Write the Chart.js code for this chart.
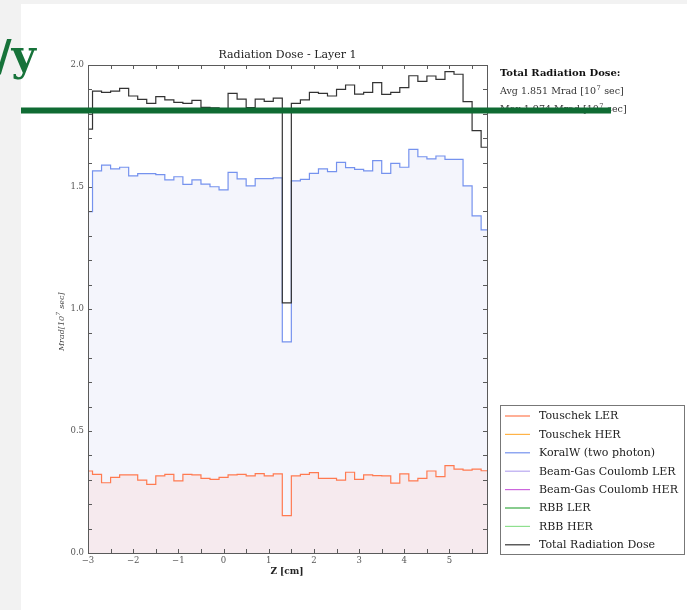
<!DOCTYPE html>
<html>
<head>
<meta charset="utf-8">
<script src="https://cdn.jsdelivr.net/npm/chart.js@4.4.0/dist/chart.umd.min.js"></script>
<style>
  html, body { margin: 0; padding: 0; background: #f2f2f2; }
  canvas { display: block; }
</style>
</head>
<body>
<canvas id="dose-chart" width="687" height="610"></canvas>
<script>
// bin edges in Z [cm]; first and last bins are cut by the axis range
var zEdges = [-3, -2.9, -2.7, -2.5, -2.3, -2.1, -1.9, -1.7, -1.5, -1.3, -1.1, -0.9, -0.7, -0.5, -0.3, -0.1,
  0.1, 0.3, 0.5, 0.7, 0.9, 1.1, 1.3, 1.5, 1.7, 1.9, 2.1, 2.3, 2.5, 2.7, 2.9, 3.1, 3.3, 3.5, 3.7, 3.9,
  4.1, 4.3, 4.5, 4.7, 4.9, 5.1, 5.3, 5.5, 5.7, 5.83];

var totalDose = [1.737, 1.893, 1.888, 1.893, 1.904, 1.873, 1.859, 1.843, 1.870, 1.857, 1.847, 1.843, 1.855,
  1.826, 1.824, 1.807, 1.884, 1.860, 1.825, 1.860, 1.851, 1.864, 1.025, 1.843, 1.857, 1.888, 1.884, 1.873,
  1.900, 1.918, 1.881, 1.888, 1.928, 1.880, 1.888, 1.907, 1.956, 1.933, 1.955, 1.941, 1.973, 1.962, 1.850,
  1.731, 1.663];

var koralW = [1.399, 1.566, 1.590, 1.574, 1.581, 1.546, 1.555, 1.555, 1.551, 1.529, 1.542, 1.511, 1.529,
  1.512, 1.501, 1.488, 1.560, 1.533, 1.505, 1.534, 1.534, 1.537, 0.865, 1.525, 1.531, 1.556, 1.574, 1.563,
  1.601, 1.579, 1.572, 1.566, 1.608, 1.556, 1.597, 1.581, 1.654, 1.624, 1.615, 1.627, 1.613, 1.613, 1.505,
  1.382, 1.324];

var touschekLER = [0.336, 0.322, 0.288, 0.310, 0.320, 0.320, 0.299, 0.281, 0.316, 0.322, 0.296, 0.322, 0.320,
  0.306, 0.302, 0.310, 0.320, 0.322, 0.316, 0.325, 0.316, 0.324, 0.153, 0.316, 0.322, 0.329, 0.306, 0.306,
  0.299, 0.331, 0.302, 0.320, 0.317, 0.316, 0.286, 0.324, 0.296, 0.306, 0.336, 0.313, 0.358, 0.344, 0.340,
  0.344, 0.337];

// the other sources sit on the axis
var nearZero = [0, 0, 0, 0, 0, 0, 0, 0, 0, 0, 0, 0, 0, 0, 0, 0, 0, 0, 0, 0, 0, 0, 0, 0, 0, 0, 0, 0, 0, 0,
  0, 0, 0, 0, 0, 0, 0, 0, 0, 0, 0, 0, 0, 0, 0];

var xTicks = [-3, -2, -1, 0, 1, 2, 3, 4, 5];
var yTicks = [0, 0.5, 1.0, 1.5, 2.0];
var xMinor = [-3, -2.5, -2, -1.5, -1, -0.5, 0, 0.5, 1, 1.5, 2, 2.5, 3, 3.5, 4, 4.5, 5, 5.5];
var yMinor = [0, 0.1, 0.2, 0.3, 0.4, 0.5, 0.6, 0.7, 0.8, 0.9, 1.0, 1.1, 1.2, 1.3, 1.4, 1.5, 1.6, 1.7, 1.8, 1.9, 2.0];

var legendNames = ["Touschek LER", "Touschek HER", "KoralW (two photon)", "Beam-Gas Coulomb LER",
  "Beam-Gas Coulomb HER", "RBB LER", "RBB HER", "Total Radiation Dose"];
var legendColors = ["#ff7a50", "#ffb347", "#7592ee", "#b8a8f0", "#cc66dd", "#3aaa44", "#8fe08f", "#333333"];

var avgDose = "1.851";
var maxDose = "1.974";

var SERIF = '"DejaVu Serif", "Liberation Serif", serif';

function stepData(vals) {
  return zEdges.map(function (z, i) {
    return { x: z, y: vals[Math.min(i, vals.length - 1)] };
  });
}

function line(label, vals, color, extra) {
  var ds = { label: label, data: stepData(vals), borderColor: color, borderWidth: 1.2,
    stepped: "before", pointRadius: 0, fill: false };
  for (var k in extra) ds[k] = extra[k];
  return ds;
}

// text with a "10^7" superscript
function drawUnits(c, prefix, x, y, size, style) {
  c.font = style + size + "px " + SERIF;
  c.fillText(prefix + "[10", x, y);
  var w = c.measureText(prefix + "[10").width;
  c.font = style + (size * 0.7) + "px " + SERIF;
  c.fillText("7", x + w + 0.5, y - size * 0.38);
  var w2 = c.measureText("7").width;
  c.font = style + size + "px " + SERIF;
  c.fillText(" sec]", x + w + w2 + 1, y);
}

var decor = {
  id: "decor",
  beforeDraw: function (chart) {
    var c = chart.ctx;
    c.save();
    c.fillStyle = "#f2f2f2";
    c.fillRect(0, 0, chart.width, chart.height);
    c.fillStyle = "#ffffff";
    c.fillRect(21, 4, chart.width - 21, chart.height - 4);
    c.restore();
  },
  afterDraw: function (chart) {
    var c = chart.ctx, a = chart.chartArea;
    var xs = chart.scales.x, ys = chart.scales.y;
    c.save();

    // frame + inward ticks on all sides
    c.strokeStyle = "#5a5a5a";
    c.lineWidth = 1;
    c.strokeRect(a.left + 0.5, a.top + 0.5, a.right - a.left, a.bottom - a.top);
    c.beginPath();
    xMinor.forEach(function (v) {
      var px = Math.round(xs.getPixelForValue(v)) + 0.5;
      c.moveTo(px, a.bottom); c.lineTo(px, a.bottom - 4);
      c.moveTo(px, a.top); c.lineTo(px, a.top + 4);
    });
    yMinor.forEach(function (v) {
      var py = Math.round(ys.getPixelForValue(v)) + 0.5;
      c.moveTo(a.left, py); c.lineTo(a.left + 4, py);
      c.moveTo(a.right, py); c.lineTo(a.right - 4, py);
    });
    c.stroke();

    // title and axis titles
    c.fillStyle = "#222";
    c.textBaseline = "middle";
    c.textAlign = "center";
    c.font = "11px " + SERIF;
    c.fillText("Radiation Dose - Layer 1", (a.left + a.right) / 2, 55);
    c.font = "bold 9px " + SERIF;
    c.fillText("Z [cm]", 287, 572);

    c.save();
    c.translate(62, 322);
    c.rotate(-Math.PI / 2);
    c.textAlign = "left";
    c.fillStyle = "#444";
    c.font = "italic 8px " + SERIF;
    var lw = c.measureText("Mrad[10 sec]").width + 4;
    drawUnits(c, "Mrad", -lw / 2, 0, 8, "italic ");
    c.restore();

    // dose summary
    c.textAlign = "left";
    c.fillStyle = "#111";
    c.font = "bold 10px " + SERIF;
    c.fillText("Total Radiation Dose:", 500, 73);
    c.fillStyle = "#333";
    drawUnits(c, "Avg " + avgDose + " Mrad ", 500, 92, 9.5, "");
    drawUnits(c, "Max " + maxDose + " Mrad ", 500, 110, 9.5, "");

    // legend box
    c.strokeStyle = "#777";
    c.lineWidth = 1;
    c.fillStyle = "#fff";
    c.fillRect(500.5, 405.5, 184, 149);
    c.strokeRect(500.5, 405.5, 184, 149);
    c.font = "11px " + SERIF;
    legendNames.forEach(function (name, i) {
      var y = 416 + i * 18.4;
      c.strokeStyle = legendColors[i];
      c.lineWidth = 1.2;
      c.beginPath();
      c.moveTo(505, y); c.lineTo(530, y);
      c.stroke();
      c.fillStyle = "#222";
      c.fillText(name, 539, y + 0.5);
    });

    // overlay from the page behind
    c.fillStyle = "#0f6b33";
    c.fillRect(21, 107.5, 590, 6);
    c.textAlign = "right";
    c.textBaseline = "alphabetic";
    c.fillStyle = "#17733a";
    c.font = "bold 42px " + SERIF;
    c.fillText("/y", 36, 70);
    c.restore();
  }
};

var ctx = document.getElementById("dose-chart").getContext("2d");
var doseChart = new Chart(ctx, {
  type: "line",
  data: {
    datasets: [
      line("Total Radiation Dose", totalDose, "#333333", {}),
      line("Touschek LER", touschekLER, "#ff7a50", { fill: "origin", backgroundColor: "#f6eaee" }),
      line("KoralW (two photon)", koralW, "#7592ee", { fill: "origin", backgroundColor: "#f4f5fc" }),
      line("Touschek HER", nearZero, "#ffb347", {}),
      line("Beam-Gas Coulomb LER", nearZero, "#b8a8f0", {}),
      line("Beam-Gas Coulomb HER", nearZero, "#cc66dd", {}),
      line("RBB LER", nearZero, "#3aaa44", {}),
      line("RBB HER", nearZero, "#8fe08f", {})
    ]
  },
  options: {
    responsive: false,
    animation: false,
    layout: { padding: { left: 0, right: 200, top: 65, bottom: 0 } },
    plugins: { legend: { display: false }, tooltip: { enabled: false } },
    scales: {
      x: {
        type: "linear", min: -3, max: 5.83,
        afterBuildTicks: function (s) { s.ticks = xTicks.map(function (v) { return { value: v }; }); },
        afterFit: function (s) { s.height = 57; },
        grid: { display: false, drawTicks: false },
        border: { display: false },
        ticks: {
          padding: 3, color: "#555", font: { family: SERIF, size: 8.5 },
          maxRotation: 0, autoSkip: false,
          callback: function (v) { return v < 0 ? "\u2212" + Math.abs(v) : String(v); }
        }
      },
      y: {
        min: 0, max: 2,
        afterBuildTicks: function (s) { s.ticks = yTicks.map(function (v) { return { value: v }; }); },
        afterFit: function (s) { s.width = 88; },
        grid: { display: false, drawTicks: false },
        border: { display: false },
        ticks: {
          padding: 4, color: "#555", font: { family: SERIF, size: 8.5 },
          callback: function (v) { return v.toFixed(1); }
        }
      }
    }
  },
  plugins: [decor]
});
</script>
</body>
</html>
